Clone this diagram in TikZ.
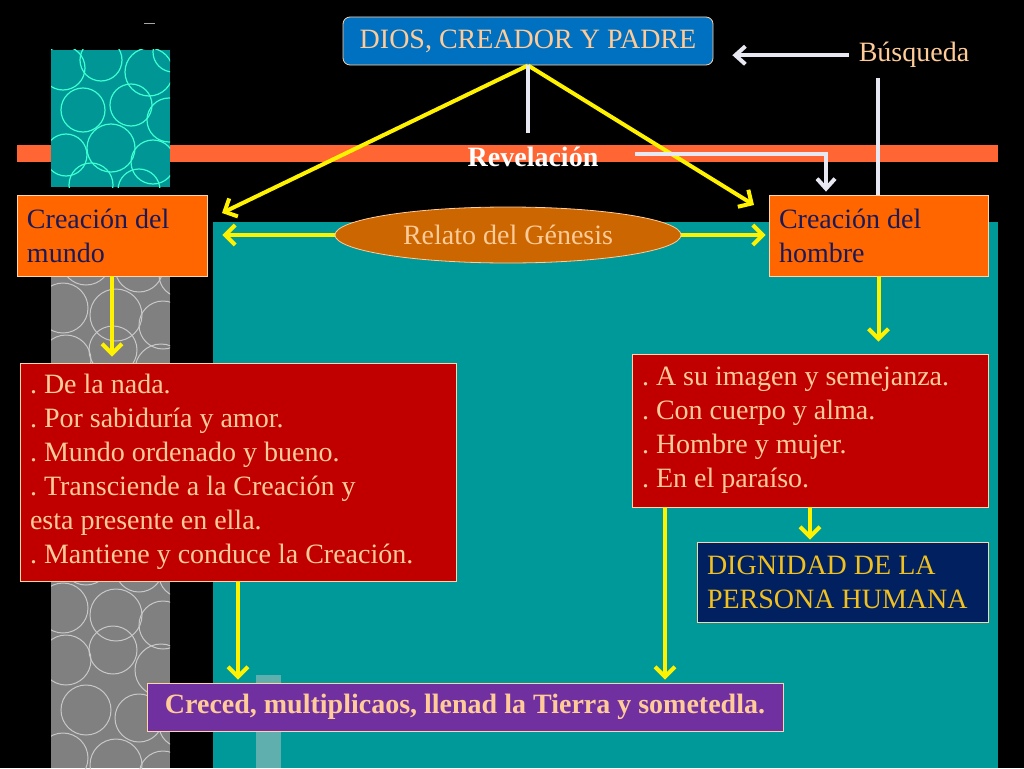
\documentclass[tikz,border=0pt]{standalone}
\usepackage{fontspec}
\setmainfont{Liberation Serif}
\usetikzlibrary{arrows.meta,shapes.geometric,calc}
\definecolor{peach}{RGB}{255,204,153}
\definecolor{orng}{RGB}{255,102,0}
\definecolor{stripe}{RGB}{255,102,51}
\definecolor{navytext}{RGB}{25,25,90}
\definecolor{redfill}{RGB}{192,0,0}
\definecolor{navyfill}{RGB}{0,32,96}
\definecolor{goldtext}{RGB}{240,192,32}
\definecolor{purplefill}{RGB}{112,48,160}
\definecolor{bluefill}{RGB}{0,112,192}
\definecolor{genfill}{RGB}{204,102,0}
\definecolor{tealbg}{RGB}{0,153,153}
\definecolor{tealpat}{RGB}{0,150,150}
\definecolor{aqua}{RGB}{60,255,210}
\definecolor{graypat}{RGB}{128,128,128}
\definecolor{graycirc}{RGB}{200,200,200}
\definecolor{lightbar}{RGB}{95,175,175}
\definecolor{wline}{RGB}{232,232,242}
\tikzset{
  txt/.style={font=\fontsize{28}{34}\selectfont\frenchspacing},
  box/.style={txt, rectangle, draw=peach!85!white, line width=0.8pt, inner xsep=10pt, inner ysep=0pt, align=flush left},
  orangebox/.style={box, fill=orng, text=navytext},
  redbox/.style={box, fill=redfill, text=peach},
  navybox/.style={box, fill=navyfill, text=goldtext},
  purplebox/.style={box, fill=purplefill, text=peach, font=\fontsize{28}{34}\selectfont\bfseries\frenchspacing, align=center},
  bluebox/.style={box, fill=bluefill, text=peach, rounded corners=7pt, align=center},
  genbox/.style={txt, ellipse, draw=peach, line width=0.8pt, fill=genfill, text=peach, inner sep=0pt},
  yarrow/.style={draw=yellow, line width=4pt, -{Straight Barb[length=10pt,width=20pt]}},
  warrow/.style={draw=wline, line width=4pt, -{Straight Barb[length=10pt,width=18pt]}},
  wplain/.style={draw=wline, line width=4pt},
}
\begin{document}
\begin{tikzpicture}[x=1pt,y=-1pt]
\useasboundingbox (0,0) rectangle (1024,768);
\fill[black] (0,0) rectangle (1024,768);
% background decoration
\fill[stripe] (17,145) rectangle (998,162);
\begin{scope}
  \clip (51,50) rectangle (170,187);
  \fill[tealpat] (51,50) rectangle (170,187);
  \foreach \dx/\dy/\r in {12/18/22,50/10/21,98/22/24,122/2/20,32/60/22,80/55/21,118/70/22,15/105/21,60/98/24,102/112/22,40/135/22,88/140/21}
    \draw[aqua, line width=1.2pt] (51+\dx,50+\dy) circle (\r pt);
\end{scope}
\begin{scope}
  \clip (51,195) rectangle (170,768);
  \fill[graypat] (51,195) rectangle (170,768);
  \foreach \ty in {190,340,490,640}
    \foreach \dx/\dy/\r in {15/20/25,62/10/24,110/30/26,35/70/25,88/78/24,130/85/22,12/118/25,65/125/26,112/135/24}
      \draw[graycirc, line width=1pt] (51+\dx,\ty+\dy) circle (\r pt);
\end{scope}
\fill[tealbg] (213,222) rectangle (998,768);
\fill[lightbar] (256,675) rectangle (281,768);
\draw[gray!70, line width=1pt] (144,24) -- (155,24);

% nodes
\node[bluebox, minimum width=370pt, minimum height=48pt] (dios) at (528,41) {DIOS, CREADOR Y PADRE};
\node[txt, text=peach, inner xsep=10pt, inner ysep=0pt, anchor=base] (busq) at (914,62) {Búsqueda};
\node[txt, text=white, font=\fontsize{28}{34}\selectfont\bfseries, inner sep=0pt, anchor=base] (revel) at (533,166) {Revelación};
\node[orangebox, text width=170pt, minimum height=81pt] (mundo) at (112,235.5) {Creación del\\mundo};
\node[orangebox, text width=199pt, minimum height=81pt] (hombre) at (878.5,235.5) {Creación del\\hombre};
\node[genbox, minimum width=346pt, minimum height=56pt] (genesis) at (508,235) {Relato del Génesis};
\node[redbox, text width=416pt, minimum height=218pt] (obras) at (238,472) {. De la nada.\\. Por sabiduría y amor.\\. Mundo ordenado y bueno.\\. Transciende a la Creación y\\esta presente en ella.\\. Mantiene y conduce la Creación.};
\node[redbox, text width=336pt, minimum height=153pt] (rasgos) at (810,430.5) {. A su imagen y semejanza.\\. Con cuerpo y alma.\\. Hombre y mujer.\\. En el paraíso.};
\node[navybox, text width=271pt, minimum height=80pt] (dignidad) at (842.5,582) {DIGNIDAD DE LA\\PERSONA HUMANA};
\node[purplebox, minimum width=636pt, minimum height=48pt] (mandato) at (465,707) {Creced, multiplicaos, llenad la Tierra y sometedla.};

% free ends
\coordinate (mundoin) at (222,213);
\coordinate (hombrein) at (754,205);
\coordinate (revdown) at (528,133);
\coordinate (revstart) at (635,154);
\coordinate (busqdown) at (878,78);

% connectors
\draw[yarrow] (dios.south) -- (mundoin);
\draw[yarrow] (dios.south) -- (hombrein);
\draw[wplain] (dios.south) -- (revdown);
\draw[warrow, shorten >=3pt] (revstart) -| ([xshift=-52.5pt]hombre.north);
\draw[wplain] (busqdown) -- (busqdown |- hombre.north);
\draw[warrow, shorten >=19pt] (busq.west) -- (busq.west -| dios.east);
\draw[yarrow, shorten >=15pt] (genesis.west) -- (genesis.west -| mundo.east);
\draw[yarrow, shorten >=3pt] (genesis.east) -- (genesis.east -| hombre.west);
\draw[yarrow, shorten >=6pt] (mundo.south) -- (mundo.south |- obras.north);
\draw[yarrow, shorten >=12pt] (hombre.south) -- (hombre.south |- rasgos.north);
\draw[yarrow, shorten >=2pt] (rasgos.south) -- (rasgos.south |- dignidad.north);
\draw[yarrow, shorten >=3pt] (obras.south) -- (obras.south |- mandato.north);
\draw[yarrow, shorten >=3pt] ([xshift=-145pt]rasgos.south) -- ([xshift=-145pt]rasgos.south |- mandato.north);
\end{tikzpicture}
\end{document}
